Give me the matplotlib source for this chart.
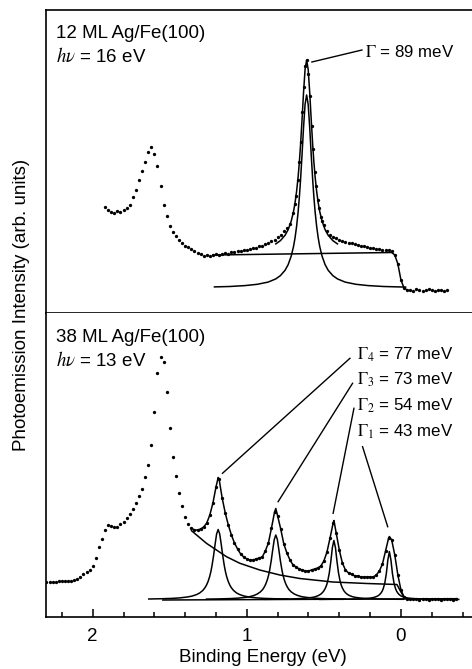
import numpy as np
import matplotlib.pyplot as plt
from matplotlib.ticker import MultipleLocator

plt.rcParams['font.family'] = ['Liberation Sans', 'DejaVu Sans']
plt.rcParams['mathtext.fontset'] = 'stix'

##---------------- upper panel: 12 ML Ag/Fe(100), hv = 16 eV ----------------##
top_E = np.concatenate([np.linspace(1.92, 0.72, 61),
                        np.linspace(0.70, 0.51, 20),
                        np.linspace(0.50, -0.30, 41)])
top_I = [106, 103, 101, 100, 102, 101, 103, 105, 108, 116,
         123, 133, 142, 151, 161, 166, 159, 147, 127, 108,
         97, 87, 81, 77, 73, 70, 67, 66, 64, 62,
         60, 59, 57, 58, 57, 58, 59, 58, 59, 60,
         59, 61, 61, 62, 62, 63, 63, 64, 65, 65,
         67, 67, 69, 70, 72, 73, 76, 78, 82, 85,
         89,
         100, 109, 117, 133, 151, 171, 201, 226, 247, 253,
         239, 217, 187, 164, 141, 127, 113, 105, 96, 92,
         88, 82, 78, 76, 75, 73, 72, 71, 70, 70,
         69, 68, 67, 67, 66, 65, 65, 64, 64, 63,
         63, 63, 62, 58, 49, 33, 25, 23, 23, 22,
         24, 23, 22, 23, 24, 23, 22, 23, 23, 22,
         23]

# fit through the data (background + Lorentzian)
top_fit_E = [0.812, 0.782, 0.752, 0.732, 0.712, 0.697, 0.687, 0.677, 0.667, 0.659,
             0.652, 0.642, 0.632, 0.622, 0.612, 0.602, 0.592, 0.582, 0.572, 0.565,
             0.557, 0.547, 0.537, 0.527, 0.512, 0.492, 0.472, 0.442, 0.412]
top_fit_I = [69.1, 72.4, 77.7, 83.3, 91.9, 101.5, 110.3, 121.7, 136.3, 151.2,
             166.7, 192.7, 220.6, 243.7, 253, 243.7, 220.6, 192.7, 166.7, 151.2,
             136.3, 121.7, 110.3, 101.5, 91.9, 83.3, 77.7, 72.4, 69.1]

# Lorentzian component (Gamma = 89 meV)
top_lor_E = [1.21, 1.112, 1.012, 0.932, 0.862, 0.812, 0.782, 0.752, 0.732, 0.712,
             0.697, 0.687, 0.677, 0.667, 0.659, 0.652, 0.642, 0.632, 0.622, 0.612,
             0.602, 0.592, 0.582, 0.572, 0.565, 0.557, 0.547, 0.537, 0.527, 0.512,
             0.492, 0.472, 0.442, 0.412, 0.362, 0.292, 0.212, 0.112, -0.03]
top_lor_I = [26.1, 26.5, 27.4, 28.7, 30.9, 34.1, 37.4, 42.7, 48.3, 56.9,
             66.5, 75.3, 86.7, 101.3, 116.2, 131.7, 157.7, 185.6, 208.7, 218,
             208.7, 185.6, 157.7, 131.7, 116.2, 101.3, 86.7, 75.3, 66.5, 56.9,
             48.3, 42.7, 37.4, 34.1, 30.9, 28.7, 27.4, 26.5, 25.9]

top_bg_E = [1.22, 0.06, 0.04, 0.02, 0.0, -0.02, -0.04]
top_bg_I = [58, 60.5, 58, 49, 33, 25, 23]

##---------------- lower panel: 38 ML Ag/Fe(100), hv = 13 eV ----------------##
bot_E = np.linspace(2.30, -0.36, 134)
bot_I = [35, 35, 35, 35, 36, 36, 36, 36, 36, 37,
         38, 40, 43, 45, 47, 51, 59, 70, 78, 87,
         92, 91, 90, 90, 93, 95, 99, 103, 108, 114,
         121, 128, 140, 152, 172, 205, 244, 260, 255, 225,
         189, 160, 141, 124, 111, 100, 93, 89, 87, 87,
         88, 90, 94, 102, 114, 130, 138, 119, 104, 92,
         82, 74, 68, 63, 60, 58, 57, 57, 58, 59,
         60, 66, 74, 89, 105, 101, 88, 73, 64, 57,
         52, 50, 48, 47, 46, 46, 47, 48, 49, 51,
         56, 65, 79, 94, 84, 67, 54, 47, 44, 43,
         41, 41, 40, 40, 40, 40, 40, 42, 46, 53,
         66, 79, 77, 62, 42, 27, 20, 18, 18, 18,
         18, 17, 18, 18, 17, 18, 18, 18, 17, 18,
         18, 18, 17, 18]

# peak tops of the fit through the data (Gamma_4 .. Gamma_1 peaks)
bot_peak_E = [1.186, 0.812, 0.435, 0.075]
bot_peak_I = [139.5, 108.5, 96.5, 80.5]

# Lorentzian components, offsets from each peak position (eV)
lor_dE = [-0.45, -0.37, -0.3, -0.25, -0.2, -0.17, -0.14, -0.12, -0.1, -0.085,
          -0.075, -0.065, -0.055, -0.047, -0.04, -0.03, -0.02, -0.01, 0,
          0.01, 0.02, 0.03, 0.04, 0.047, 0.055, 0.065, 0.075, 0.085, 0.1,
          0.12, 0.14, 0.17, 0.2, 0.25, 0.3, 0.37, 0.45]
c4_half = [18.0, 18.25, 18.6, 19.1, 20.0, 20.9, 22.4, 24.0, 26.5, 29.4,
           32.1, 35.7, 40.5, 45.6, 51.2, 61.1, 72.6, 83.1, 87.5]
c3_half = [17.9, 18.1, 18.4, 18.8, 19.6, 20.3, 21.6, 23.0, 25.1, 27.5,
           29.9, 33.0, 37.2, 41.7, 46.8, 56.0, 67.1, 77.5, 82.0]
c2_half = [17.7, 17.8, 18.0, 18.2, 18.6, 19.0, 19.6, 20.3, 21.5, 22.9,
           24.3, 26.2, 29.0, 32.1, 36.0, 43.9, 55.6, 69.4, 76.5]
c1_half = [17.6, 17.7, 17.7, 17.9, 18.0, 18.3, 18.6, 19.0, 19.6, 20.4,
           21.1, 22.2, 23.9, 25.8, 28.3, 33.8, 43.2, 57.0, 65.5]
components = [c + c[-2::-1] for c in (c4_half, c3_half, c2_half, c1_half)]

bot_bg_E = [1.359, 1.262, 1.132, 1.045, 0.916, 0.786, 0.656, 0.442, 0.221, 0.026, 0.0, -0.025]
bot_bg_I = [86.3, 73.7, 60.3, 53.7, 47, 42, 38.5, 35, 33.5, 32.5, 25, 18.5]

bot_base_E = [1.545, -0.364]
bot_base_I = [17, 18.3]

widths = ['77', '73', '54', '43']   # Gamma_4 .. Gamma_1 in meV

##---------------------------------- plot ----------------------------------##
fig = plt.figure(figsize=(4.72, 6.69), dpi=100)
L = 46 / 472
ax1 = fig.add_axes([L, 1 - 313 / 669, 1 - L, 303 / 669])
ax2 = fig.add_axes([L, 1 - 617 / 669, 1 - L, 304 / 669])

dot = dict(ls='none', marker='o', ms=2.4, mew=0, color='k')
lw = 1.1
fs = 13.5

# upper
ax1.plot(top_E, top_I, **dot)
ax1.plot(top_fit_E, top_fit_I, color='k', lw=lw)
ax1.plot(top_lor_E, top_lor_I, color='k', lw=lw)
ax1.plot(top_bg_E, top_bg_I, color='k', lw=lw)
ax1.plot([0.578, 0.253], [251, 263], color='k', lw=1.0)
ax1.text(0.234, 261, r'$\Gamma$ = 89 meV', fontsize=12.2, va='center', ha='left')
ax1.text(0.023, 0.924, '12 ML Ag/Fe(100)', transform=ax1.transAxes, fontsize=fs, va='center')
ax1.text(0.023, 0.845, r'$h\nu$ = 16 eV', transform=ax1.transAxes, fontsize=fs, va='center')

# lower
ax2.plot(bot_E, bot_I, **dot)
bE = np.asarray(bot_E)
m = (bE <= 1.36) & (bE >= -0.04)
fit_E = np.concatenate([bE[m], bot_peak_E])
fit_I = np.concatenate([np.asarray(bot_I)[m], bot_peak_I])
order = np.argsort(fit_E)
ax2.plot(fit_E[order], fit_I[order], color='k', lw=lw)
for c, yi in zip(bot_peak_E, components):
    ax2.plot(c + np.asarray(lor_dE), yi, color='k', lw=lw)
ax2.plot(bot_bg_E, bot_bg_I, color='k', lw=lw)
ax2.plot(bot_base_E, bot_base_I, color='k', lw=lw)

ann_from = [(1.158, 143.7), (0.797, 115.3), (0.440, 103.7), (0.086, 90.3)]
ann_to = [(0.331, 258.7), (0.314, 233.7), (0.305, 208.7), (0.249, 170.3)]
ann_y = [262, 237, 211, 185.3]
for i, (a, b, ty, w) in enumerate(zip(ann_from, ann_to, ann_y, widths)):
    ax2.plot([a[0], b[0]], [a[1], b[1]], color='k', lw=1.0)
    ax2.text(0.286, ty, r'$\Gamma_{%d}$ = %s meV' % (4 - i, w), fontsize=12.2,
             va='center', ha='left')
ax2.text(0.023, 0.921, '38 ML Ag/Fe(100)', transform=ax2.transAxes, fontsize=fs, va='center')
ax2.text(0.023, 0.845, r'$h\nu$ = 13 eV', transform=ax2.transAxes, fontsize=fs, va='center')

for ax, top in ((ax1, 303), (ax2, 304)):
    ax.set_xlim(2.303, -0.461)
    ax.set_ylim(0, top)
    ax.set_yticks([])
    ax.spines['right'].set_visible(False)
    for s in ax.spines.values():
        s.set_linewidth(1.2)
ax2.spines['top'].set_visible(False)
ax1.tick_params(bottom=False, labelbottom=False)
ax2.set_xticks([2, 1, 0])
ax2.set_xticklabels(['2', '1', '0'])
ax2.xaxis.set_minor_locator(MultipleLocator(0.2))
ax2.tick_params(axis='x', which='major', direction='in', length=6, width=1.1, pad=8, labelsize=fs)
ax2.tick_params(axis='x', which='minor', direction='in', length=3.3, width=1.1)

fig.text(262.5 / 472, 1 - 658 / 669, 'Binding Energy (eV)', ha='center', va='center', fontsize=fs)
fig.text(22 / 472, 1 - 305 / 669, 'Photoemission Intensity (arb. units)', ha='center',
         va='center', rotation=90, fontsize=fs)

fig.savefig('out.png', dpi=100)
